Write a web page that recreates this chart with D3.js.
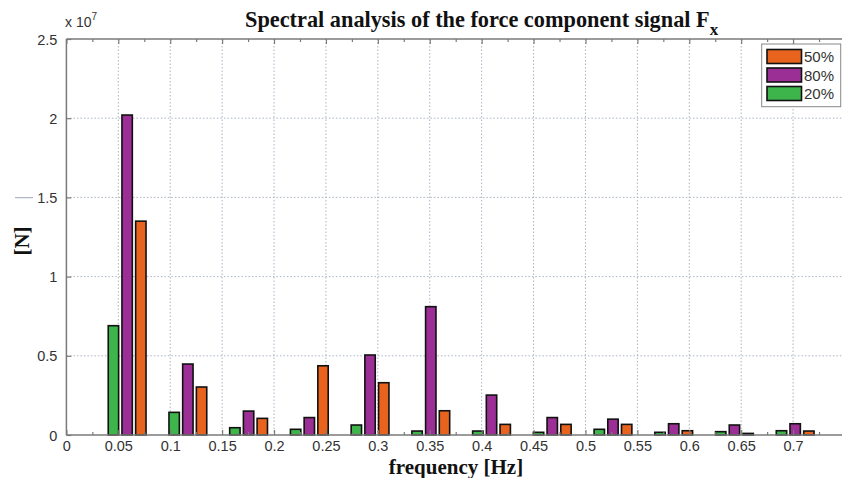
<!DOCTYPE html>
<html><head><meta charset="utf-8">
<script src="https://cdn.jsdelivr.net/npm/d3@7"></script>
<style>body{margin:0;background:#fff}svg{display:block}</style>
</head><body>
<svg id="c" width="842" height="478"></svg>
<script>
const frequencies = [0.0585,0.117,0.1755,0.234,0.2925,0.351,0.4095,0.468,0.5265,0.585,0.6435,0.702];
const series20 = [0.69e7,0.143e7,0.046e7,0.036e7,0.063e7,0.025e7,0.025e7,0.017e7,0.036e7,0.017e7,0.021e7,0.027e7];
const series80 = [2.02e7,0.448e7,0.151e7,0.11e7,0.505e7,0.81e7,0.252e7,0.11e7,0.10e7,0.071e7,0.063e7,0.071e7];
const series50 = [1.35e7,0.303e7,0.105e7,0.437e7,0.33e7,0.153e7,0.067e7,0.067e7,0.067e7,0.027e7,0.01e7,0.025e7];
const seriesNames = ["20%","80%","50%"];
const seriesColors = ["#3db54a","#9b2f96","#e8641e"];
const legendOrder = [2,1,0];
const xTicks = [0,0.05,0.1,0.15,0.2,0.25,0.3,0.35,0.4,0.45,0.5,0.55,0.6,0.65,0.7];
const xMinor = [0.025,0.075,0.125,0.175,0.225,0.275,0.325,0.375,0.425,0.475,0.525,0.575,0.625,0.675,0.725];
const yTicks = [0,0.5e7,1e7,1.5e7,2e7,2.5e7];
const yTickLabels = ["0","0.5","1","1.5","2","2.5"];

const svg = d3.select("#c");
const L = 66.4, T = 39, B = 435;
const x = d3.scaleLinear().domain([0,0.75]).range([L, 845]);
const y = d3.scaleLinear().domain([0,2.5e7]).range([B, T]);
const axisCol = "#7a7a7a";
const sans = "'Liberation Sans', Arial, sans-serif";
const serif = "'Liberation Serif', 'Times New Roman', serif";

// grid
const grid = svg.append("g");
xTicks.filter(d=>d>0).forEach(d=>{
  grid.append("line").attr("x1",x(d)).attr("x2",x(d)).attr("y1",T).attr("y2",B)
    .attr("stroke","#aab4c4").attr("stroke-width",1).attr("stroke-dasharray","1.5,2");
});
yTicks.filter(d=>d>0 && d<2.5e7).forEach(d=>{
  grid.append("line").attr("x1",L).attr("x2",842).attr("y1",y(d)).attr("y2",y(d))
    .attr("stroke","#aab4c4").attr("stroke-width",1).attr("stroke-dasharray","1.5,2");
});

// bars
const all = [series20, series80, series50];
const pitch = x(0.0132)-x(0);
const bw = x(0.0100)-x(0);
all.forEach((s,si)=>{
  svg.append("g").selectAll("rect").data(s).join("rect")
    .attr("x",(d,i)=>x(frequencies[i]) + (si-1)*pitch - bw/2)
    .attr("width",bw)
    .attr("y",d=>y(d))
    .attr("height",d=>B-y(d))
    .attr("fill",seriesColors[si])
    .attr("stroke","#111").attr("stroke-width",1.6);
});

// axes via d3
const fmtX = d=>d3.format("")(+d.toFixed(2));
const gx = svg.append("g").attr("transform",`translate(0,${B})`)
  .call(d3.axisBottom(x).tickValues(xTicks).tickSize(-5).tickPadding(6).tickFormat(fmtX));
const gxm = svg.append("g").attr("transform",`translate(0,${B})`)
  .call(d3.axisBottom(x).tickValues(xMinor).tickSize(-3).tickFormat(""));
const gxt = svg.append("g").attr("transform",`translate(0,${T})`)
  .call(d3.axisTop(x).tickValues(xTicks).tickSize(-5).tickFormat(""));
const gxtm = svg.append("g").attr("transform",`translate(0,${T})`)
  .call(d3.axisTop(x).tickValues(xMinor).tickSize(-3).tickFormat(""));
const gy = svg.append("g").attr("transform",`translate(${L},0)`)
  .call(d3.axisLeft(y).tickValues(yTicks).tickSize(-5).tickPadding(9).tickFormat((d,i)=>yTickLabels[i]));
[gx,gxm,gxt,gxtm,gy].forEach(g=>{
  g.selectAll("path").attr("stroke",axisCol).attr("stroke-width",1.5);
  g.selectAll("line").attr("stroke",axisCol).attr("stroke-width",1.2);
  g.selectAll("text").attr("font-family",sans).attr("font-size",14.5).attr("fill","#333");
});
gx.select(".domain").attr("d",`M${L},0H842`);
gxm.select(".domain").remove(); gxtm.select(".domain").remove();
gxt.select(".domain").attr("d",`M${L},0H842`);
gy.select(".domain").attr("d",`M0,${B}V${T}`);
gy.selectAll("text").attr("dy","0.35em");

// exponent
const ex = svg.append("text").attr("x",65).attr("y",27)
  .attr("font-family",sans).attr("font-size",14).attr("fill","#333");
ex.append("tspan").text("x 10");
ex.append("tspan").attr("dy",-7).attr("font-size",10).text("7");

// title
const t = svg.append("text").attr("x",245).attr("y",27)
  .attr("font-family",serif).attr("font-weight","bold")
  .attr("font-size",22.3).attr("fill","#111");
t.append("tspan").text("Spectral analysis of the force component signal F");
t.append("tspan").attr("dy",8).attr("font-size",17).text("x");

// axis labels
svg.append("text").attr("x",456).attr("y",473.5).attr("text-anchor","middle")
  .attr("font-family",serif).attr("font-weight","bold")
  .attr("font-size",21).attr("fill","#111").text("frequency [Hz]");
svg.append("text").attr("transform","translate(29,241) rotate(-90)").attr("text-anchor","middle")
  .attr("font-family",serif).attr("font-weight","bold")
  .attr("font-size",21).attr("fill","#111").text("[N]");
svg.append("line").attr("x1",15).attr("x2",33).attr("y1",197.7).attr("y2",197.7)
  .attr("stroke","#9aa6b4").attr("stroke-width",1);

// legend
const lg = svg.append("g");
lg.append("rect").attr("x",761.7).attr("y",44).attr("width",79).attr("height",62.7)
  .attr("fill","#fff").attr("stroke","#888").attr("stroke-width",1);
legendOrder.forEach((si,k)=>{
  lg.append("rect").attr("x",767).attr("y",49.5+k*18.5).attr("width",34.5).attr("height",14)
    .attr("fill",seriesColors[si]).attr("stroke","#111").attr("stroke-width",1.6);
  lg.append("text").attr("x",804).attr("y",62+k*18.5)
    .attr("font-family",sans).attr("font-size",15).attr("fill","#333")
    .text(seriesNames[si]);
});
</script>
</body></html>
